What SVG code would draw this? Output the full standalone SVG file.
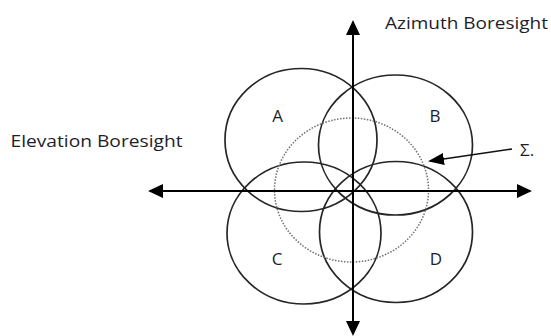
<svg xmlns="http://www.w3.org/2000/svg" width="551" height="336" viewBox="0 0 551 336">
<style>
.lobe{fill:none;stroke:#262626;stroke-width:1.7}
.sum{fill:none;stroke:#707070;stroke-width:1.5;stroke-dasharray:1.5 1.5}
.axis{stroke:#000;stroke-width:2;fill:none}
.ptr{stroke:#111;stroke-width:1.6;fill:none}
.lbl{font-family:"Open Sans",Lato,"Liberation Sans",sans-serif;font-size:17px;fill:#1e1e2a}
</style>
<defs>
<marker id="ah" markerUnits="userSpaceOnUse" markerWidth="15" markerHeight="14" refX="13" refY="7" orient="auto-start-reverse" viewBox="0 0 15 14">
<path d="M0,0 L15,7 L0,14 z" fill="#000"/>
</marker>
<marker id="ah2" markerUnits="userSpaceOnUse" markerWidth="16" markerHeight="12" refX="14" refY="6" orient="auto" viewBox="0 0 16 12">
<path d="M0,0 L16,6 L0,12 z" fill="#000"/>
</marker>
</defs>
<g id="lobe-A"><ellipse class="lobe" cx="301" cy="140" rx="76" ry="71.5"/><text class="lbl" x="277.5" y="122" text-anchor="middle">A</text></g>
<g id="lobe-B"><ellipse class="lobe" cx="395.5" cy="145" rx="77" ry="70"/><text class="lbl" x="435" y="122" text-anchor="middle">B</text></g>
<g id="lobe-C"><ellipse class="lobe" cx="304" cy="233" rx="77" ry="71"/><text class="lbl" x="277" y="264.5" text-anchor="middle">C</text></g>
<g id="lobe-D"><ellipse class="lobe" cx="396" cy="232" rx="76.5" ry="70.5"/><text class="lbl" x="436" y="265" text-anchor="middle">D</text></g>
<g id="sum"><ellipse class="sum" cx="351.5" cy="190" rx="77" ry="72"/><text class="lbl" x="520" y="156">Σ.</text></g>
<g id="connectors">
<line class="axis" x1="150" y1="191" x2="530" y2="191" marker-start="url(#ah)" marker-end="url(#ah)"/>
<line class="axis" x1="353" y1="22" x2="353" y2="334" marker-start="url(#ah)" marker-end="url(#ah)"/>
<line class="ptr" x1="512" y1="149" x2="430" y2="161" marker-end="url(#ah2)"/>
</g>
<g id="axis-labels">
<text class="lbl" x="385" y="29" textLength="163" lengthAdjust="spacingAndGlyphs">Azimuth Boresight</text>
<text class="lbl" x="10.5" y="147" textLength="172" lengthAdjust="spacingAndGlyphs">Elevation Boresight</text>
</g>
</svg>
